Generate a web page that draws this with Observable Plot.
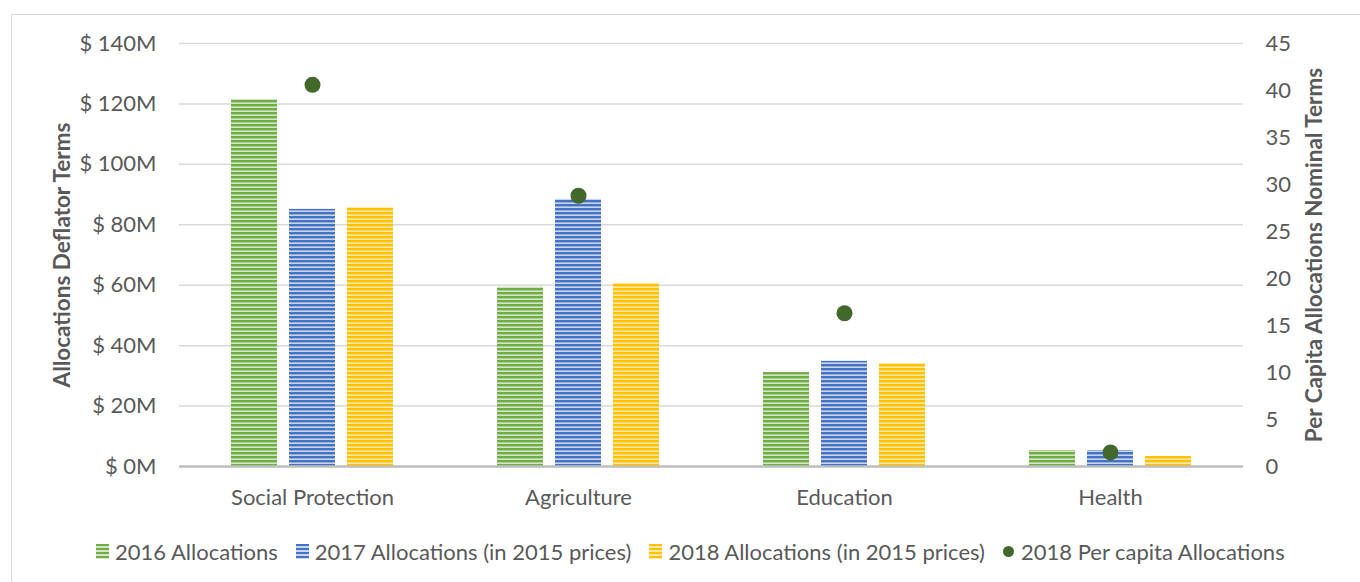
<!DOCTYPE html>
<html><head><meta charset="utf-8">
<script src="https://cdn.jsdelivr.net/npm/d3@7"></script>
<script src="https://cdn.jsdelivr.net/npm/@observablehq/plot@0.6"></script>
<style>
body{margin:0;background:#fff;font-family:Lato,sans-serif;}
#wrap{position:relative;width:1360px;height:582px;overflow:hidden;}
#border{position:absolute;left:11px;top:14px;width:1400px;height:620px;border:1.5px solid #d9d9d9;box-sizing:border-box;}
#chart{position:absolute;left:0;top:0;}
#chart [aria-label="y-axis label"]{font-weight:bold;font-size:22.5px;}
#legend{position:absolute;left:96px;top:538px;display:flex;align-items:center;font-size:22px;color:#595959;white-space:nowrap;}
.item{display:flex;align-items:center;margin-right:18px;}
.sw{width:13px;height:15px;margin-right:6px;}
.dt{width:11px;height:11px;border-radius:50%;margin-right:7px;background:#43682b;}
</style></head>
<body><div id="wrap"><div id="border"></div><div id="chart"></div><div id="legend"></div></div>
<script>
const categories = ["Social Protection", "Agriculture", "Education", "Health"];
const seriesNames = ["2016 Allocations", "2017 Allocations (in 2015 prices)", "2018 Allocations (in 2015 prices)"];
const alloc2016 = [121.5, 59.3, 31.1, 5.3];
const alloc2017 = [85.1, 88.4, 34.8, 5.3];
const alloc2018 = [85.7, 60.6, 34.1, 3.3];
const perCapitaName = "2018 Per capita Allocations";
const perCapita2018 = [40.6, 28.8, 16.3, 1.5];
const leftTicks = [0, 20, 40, 60, 80, 100, 120, 140];
const rightTicks = [0, 5, 10, 15, 20, 25, 30, 35, 40, 45];
const seriesColors = ["#70ad47", "#4472c4", "#ffc000"];
const seriesLight = ["#d3e6c6", "#c9d6ee", "#ffe9a6"];
const dotColor = "#43682b";

const k = 140 / 45;
const allocs = [alloc2016, alloc2017, alloc2018];
const bars = categories.flatMap((c, i) => seriesNames.map((s, j) => ({category: c, series: s, value: allocs[j][i]})));
const dots = categories.map((c, i) => ({category: c, series: seriesNames[1], pc: perCapita2018[i]}));
const patIds = ["stripe-green", "stripe-blue", "stripe-yellow"];

const chart = Plot.plot({
  width: 1360, height: 530,
  marginLeft: 178, marginRight: 116, marginTop: 43, marginBottom: 64,
  style: {fontFamily: "Lato, sans-serif", fontSize: "22px", color: "#595959", background: "transparent", overflow: "visible"},
  fx: {domain: categories, padding: 0, label: null},
  x: {domain: seriesNames, paddingInner: 0.2, paddingOuter: 0.86, axis: null},
  y: {domain: [0, 140], label: null},
  color: {domain: seriesNames, range: patIds.map(id => `url(#${id})`)},
  marks: [
    Plot.gridY(leftTicks, {stroke: "#d9d9d9", strokeOpacity: 1, strokeWidth: 1.5}),
    Plot.axisY({anchor: "left", ticks: leftTicks, tickSize: 0, tickPadding: 23, tickFormat: d => `$ ${d}M`,
      label: "Allocations Deflator Terms", labelAnchor: "center", labelOffset: 125, labelArrow: "none"}),
    Plot.axisY({anchor: "right", ticks: rightTicks.map(v => v * k), tickSize: 0, tickPadding: 22,
      tickFormat: v => String(Math.round(v / k)),
      label: "Per Capita Allocations Nominal Terms", labelAnchor: "center", labelOffset: 78, labelArrow: "none"}),
    Plot.axisFx({anchor: "bottom", tickSize: 0, tickPadding: 23, label: null}),
    Plot.barY(bars, {fx: "category", x: "series", y: "value", fill: "series"}),
    Plot.ruleY([0], {stroke: "#bfbfbf", strokeWidth: 2.5}),
    Plot.dot(dots, {fx: "category", x: "series", y: d => d.pc * k, r: 8, fill: dotColor})
  ]
});

const ns = "http://www.w3.org/2000/svg";
const defs = document.createElementNS(ns, "defs");
patIds.forEach((id, i) => {
  const p = document.createElementNS(ns, "pattern");
  p.setAttribute("id", id);
  p.setAttribute("patternUnits", "userSpaceOnUse");
  p.setAttribute("width", 4); p.setAttribute("height", 4);
  const r1 = document.createElementNS(ns, "rect");
  r1.setAttribute("width", 4); r1.setAttribute("height", 4); r1.setAttribute("fill", seriesLight[i]);
  const r2 = document.createElementNS(ns, "rect");
  r2.setAttribute("width", 4); r2.setAttribute("height", 2.4); r2.setAttribute("fill", seriesColors[i]);
  p.appendChild(r1); p.appendChild(r2);
  defs.appendChild(p);
});
chart.insertBefore(defs, chart.firstChild);
document.getElementById("chart").appendChild(chart);

const legend = document.getElementById("legend");
seriesNames.forEach((s, i) => {
  const it = document.createElement("div"); it.className = "item";
  const sw = document.createElement("div"); sw.className = "sw";
  sw.style.background = `repeating-linear-gradient(to bottom, ${seriesColors[i]} 0px, ${seriesColors[i]} 2.4px, ${seriesLight[i]} 2.4px, ${seriesLight[i]} 4px)`;
  it.appendChild(sw);
  const t = document.createElement("span"); t.textContent = s; it.appendChild(t);
  legend.appendChild(it);
});
const it = document.createElement("div"); it.className = "item";
const d = document.createElement("div"); d.className = "dt"; it.appendChild(d);
const t = document.createElement("span"); t.textContent = perCapitaName; it.appendChild(t);
legend.appendChild(it);
</script></body></html>
